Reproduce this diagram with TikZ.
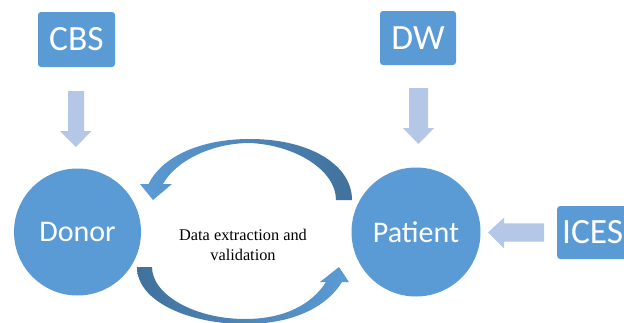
\documentclass[tikz,border=0pt]{standalone}
\usepackage{fontspec}
\setmainfont{Carlito}
\newfontfamily\serifface{Liberation Serif}
\definecolor{nodeblue}{HTML}{5B9BD5}
\definecolor{lightarrow}{HTML}{B4C7E7}
\definecolor{darkblue}{HTML}{41719C}
\tikzset{
  circnode/.style={circle, fill=nodeblue, text=white, inner sep=0pt, font=\fontsize{30}{35}\selectfont},
  boxnode/.style={rectangle, rounded corners=3pt, fill=nodeblue, text=white, inner sep=0pt, font=\fontsize{35.5}{42}\selectfont},
  blockarrow/.style={fill=lightarrow, draw=none},
  labeltext/.style={font=\serifface\fontsize{16.3}{20}\selectfont, align=center, text=black}
}
\begin{document}
\begin{tikzpicture}[x=1pt,y=-1pt]
\useasboundingbox (0,0) rectangle (624,322);
\clip (0,0) rectangle (624,322);
% nodes
\node[circnode, minimum size=127pt] (donor) at (77.5,232) {Donor};
\node[circnode, minimum size=129pt] (patient) at (416,232) {Patient};
\node[boxnode, minimum width=77pt, minimum height=55pt] (cbs) at (76.5,39.5) {CBS};
\node[boxnode, minimum width=76pt, minimum height=54pt] (dw) at (418,38) {DW};
\node[boxnode, minimum width=76pt, minimum height=53pt, anchor=west] (ices) at (557,232.5) {\hspace*{-5pt}ICES};
\node[labeltext] (label) at (243,245) {Data extraction and\\validation};
% light block arrows
\fill[blockarrow] (68,91) -- (84,91) -- (84,131) -- (91.5,131) -- (76,147) -- (60,131) -- (68,131) -- cycle;
\fill[blockarrow] (409,88) -- (428,88) -- (428,128) -- (434,128) -- (418.5,144) -- (403,128) -- (409,128) -- cycle;
\fill[blockarrow] (544,223.3) -- (544,241.7) -- (504,241.7) -- (504,248.3) -- (488,232.5) -- (504,217.7) -- (504,223.3) -- cycle;
% curved arrow top (Patient -> Donor)
\shade[left color=nodeblue, right color=darkblue]
  (352,200) .. controls (352,165) and (310,139) .. (250,139)
  .. controls (195,139) and (160,160) .. (148.5,184)
  -- (140,184) -- (153,200) -- (172,184) -- (163,184)
  .. controls (175,162) and (210,143) .. (250,143)
  .. controls (295,145) and (336,170) .. (336,200) -- cycle;
% curved arrow bottom (Donor -> Patient)
\shade[left color=darkblue, right color=nodeblue]
  (137,267) .. controls (137,302) and (190,324) .. (245,324)
  .. controls (300,324) and (330,302) .. (342,282)
  -- (349,282) -- (339,267) -- (320,282) -- (326,282)
  .. controls (312,304) and (285,319) .. (245,319)
  .. controls (195,319) and (152,295) .. (152,267) -- cycle;
\end{tikzpicture}
\end{document}
